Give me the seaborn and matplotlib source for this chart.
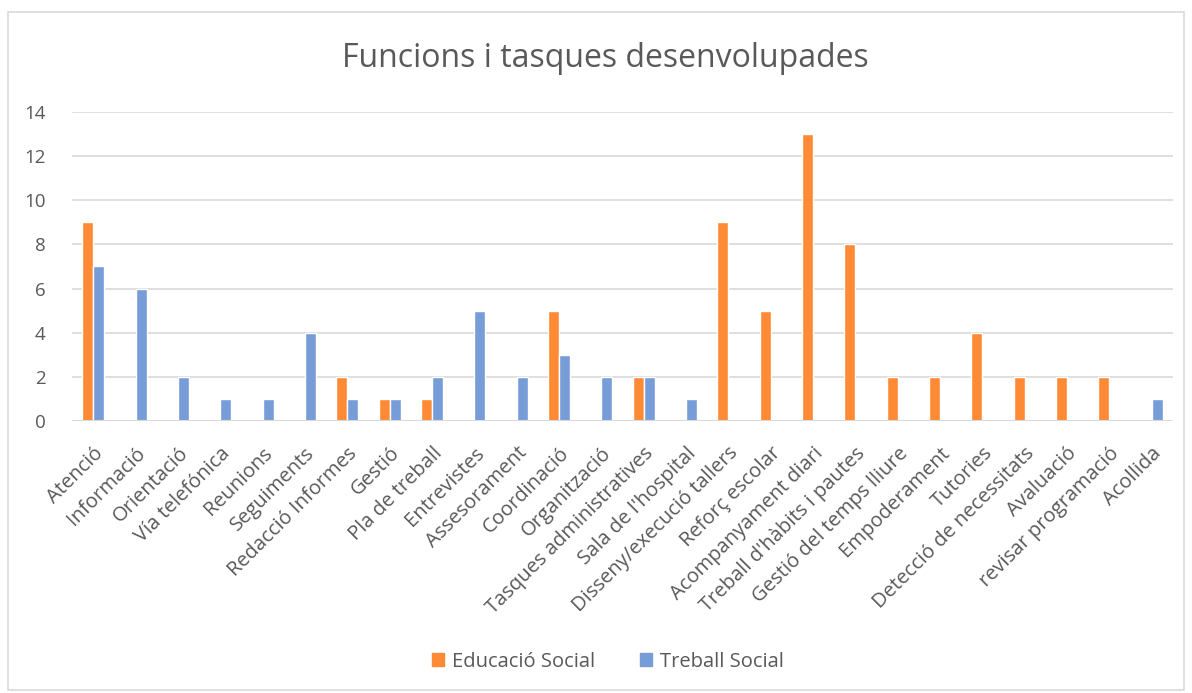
import matplotlib.pyplot as plt
import matplotlib.patches as mpatches
import seaborn as sns
import pandas as pd

categories = ["Atenció", "Informació", "Orientació", "Vía telefónica", "Reunions",
              "Seguiments", "Redacció Informes", "Gestió", "Pla de treball",
              "Entrevistes", "Assesorament", "Coordinació", "Organització",
              "Tasques administratives", "Sala de l'hospital",
              "Disseny/execució tallers", "Reforç escolar", "Acompanyament diari",
              "Treball d'hàbits i pautes", "Gestió del temps lliure",
              "Empoderament", "Tutories", "Detecció de necessitats", "Avaluació",
              "revisar programació", "Acollida"]
educacio_social = [9, 0, 0, 0, 0, 0, 2, 1, 1, 0, 0, 5, 0, 2, 0,
                   9, 5, 13, 8, 2, 2, 4, 2, 2, 2, 0]
treball_social = [7, 6, 2, 1, 1, 4, 1, 1, 2, 5, 2, 3, 2, 2, 1,
                  0, 0, 0, 0, 0, 0, 0, 0, 0, 0, 1]
series = ["Educació Social", "Treball Social"]
colors = ["#FF8A36", "#779DD8"]

df = pd.DataFrame({
    "Categoria": categories * 2,
    "Valor": educacio_social + treball_social,
    "Serie": [series[0]] * len(categories) + [series[1]] * len(categories),
})

sns.set_style("white")
plt.rcParams['font.family'] = ['Open Sans', 'DejaVu Sans']

fig = plt.figure(figsize=(11.92, 6.93), dpi=100)
ax = fig.add_axes([0.0604, 0.3925, 0.9236, 0.4459])

sns.barplot(data=df, x="Categoria", y="Valor", hue="Serie", palette=colors,
            saturation=1, width=0.52, edgecolor="white", linewidth=1.0, ax=ax,
            legend=False, zorder=2)

ax.set_ylim(0, 14)
ax.set_yticks(range(0, 15, 2))
ax.set_xlim(-0.5, len(categories) - 0.5)
ax.yaxis.grid(True, color="#D9D9D9", linewidth=1.2, zorder=0)
ax.set_axisbelow(True)
ax.axhline(0, color="#D9D9D9", linewidth=1.5, zorder=3)
for s in ax.spines.values():
    s.set_visible(False)
ax.tick_params(axis="both", length=0, colors="#595959")
ax.tick_params(axis="y", pad=19, labelsize=13.5)
ax.tick_params(axis="x", pad=16, labelsize=14.5)
ax.set_xlabel("")
ax.set_ylabel("")
plt.setp(ax.get_xticklabels(), rotation=45, ha="right", rotation_mode="anchor")

fig.text(0.508, 0.915, "Funcions i tasques desenvolupades", ha="center",
         va="center", fontsize=23, color="#595959")

handles = [mpatches.Patch(color=c, label=s) for c, s in zip(colors, series)]
fig.legend(handles=handles, loc="center", bbox_to_anchor=(0.51, 0.045), ncol=2,
           frameon=False, fontsize=14.5, labelcolor="#595959", handlelength=0.6,
           handleheight=0.6, columnspacing=2.2, handletextpad=0.4)

fig.patches.append(mpatches.Rectangle((0.007, 0.005), 0.986, 0.978,
                                      transform=fig.transFigure, fill=False,
                                      edgecolor="#D9D9D9", linewidth=1.2))

fig.savefig("out.png", dpi=100, facecolor="white")
